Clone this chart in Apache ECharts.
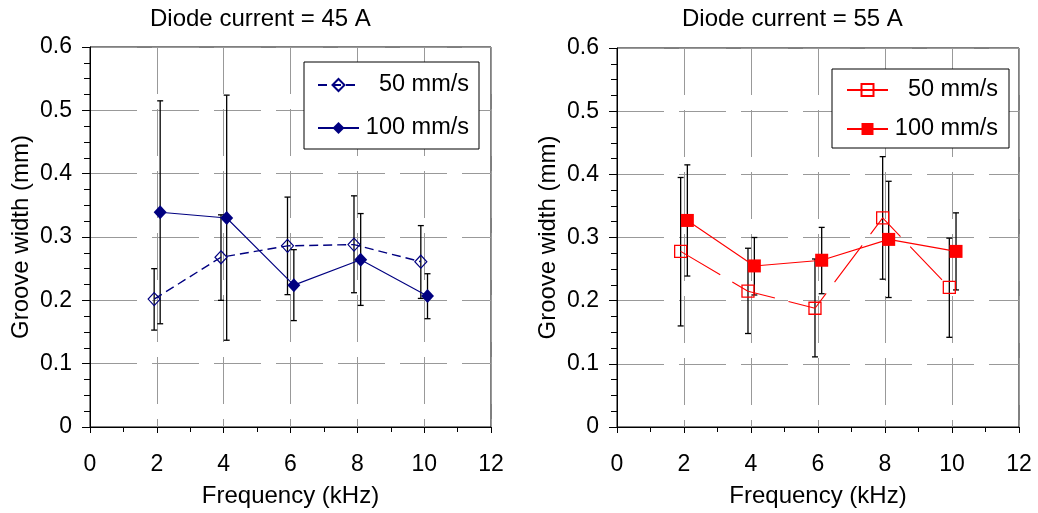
<!DOCTYPE html>
<html>
<head>
<meta charset="utf-8">
<script src="https://cdn.jsdelivr.net/npm/echarts@6/dist/echarts.min.js"></script>
<style>
html,body{margin:0;padding:0;background:#fff;}
#chart{width:1038px;height:513px;}
</style>
</head>
<body>
<div id="chart"></div>
<script>
// ---- data ----
const titles = ['Diode current = 45 A', 'Diode current = 55 A'];
const speedLabels = ['50 mm/s', '100 mm/s'];
const xTickMax = 12;
const yTickMax = 0.6;

// 45 A
const freq50L  = [1.92, 3.92, 5.91, 7.90, 9.90];
const width50L = [0.202, 0.268, 0.286, 0.288, 0.261];
const lo50L    = [0.153, 0.200, 0.209, 0.212, 0.203];
const hi50L    = [0.250, 0.335, 0.363, 0.365, 0.318];

const freq100L  = [2.10, 4.09, 6.10, 8.10, 10.10];
const width100L = [0.339, 0.330, 0.224, 0.264, 0.207];
const lo100L    = [0.163, 0.137, 0.168, 0.192, 0.171];
const hi100L    = [0.515, 0.524, 0.280, 0.337, 0.242];

// 55 A
const freq50R  = [1.90, 3.91, 5.91, 7.93, 9.92];
const width50R = [0.278, 0.215, 0.188, 0.331, 0.221];
const lo50R    = [0.160, 0.148, 0.111, 0.234, 0.142];
const hi50R    = [0.395, 0.283, 0.266, 0.428, 0.299];

const freq100R  = [2.10, 4.10, 6.11, 8.11, 10.12];
const width100R = [0.327, 0.255, 0.264, 0.297, 0.278];
const lo100R    = [0.239, 0.209, 0.211, 0.205, 0.217];
const hi100R    = [0.415, 0.300, 0.316, 0.389, 0.339];

// ---- helpers ----
const FONT = '"Liberation Sans", Arial, sans-serif';
const zip2 = (a, b) => a.map((v, i) => [v, b[i]]);
const zip3 = (a, b, c) => a.map((v, i) => [v, b[i], c[i]]);

const nameMap = {
  'L50': speedLabels[0], 'L100': speedLabels[1],
  'R50': speedLabels[0], 'R100': speedLabels[1]
};

function errRender(params, api) {
  const x = api.value(0), lo = api.value(1), hi = api.value(2);
  const pTop = api.coord([x, hi]);
  const pBot = api.coord([x, lo]);
  const cap = 3;
  const st = { stroke: '#000', lineWidth: 1.3 };
  return {
    type: 'group',
    children: [
      { type: 'line', shape: { x1: pTop[0], y1: pTop[1], x2: pBot[0], y2: pBot[1] }, style: st },
      { type: 'line', shape: { x1: pTop[0] - cap, y1: pTop[1], x2: pTop[0] + cap, y2: pTop[1] }, style: st },
      { type: 'line', shape: { x1: pBot[0] - cap, y1: pBot[1], x2: pBot[0] + cap, y2: pBot[1] }, style: st }
    ]
  };
}

function xAxisDef(gi) {
  return {
    type: 'value', gridIndex: gi, min: 0, max: xTickMax, interval: 2,
    name: 'Frequency (kHz)', nameLocation: 'middle', nameGap: 57,
    nameTextStyle: { fontFamily: FONT, fontSize: 24, color: '#000' },
    axisLine: { show: true, onZero: false, lineStyle: { color: '#000', width: 1 } },
    axisTick: { show: true, inside: false, length: 6, lineStyle: { color: '#000' } },
    minorTick: { show: true, splitNumber: 2, length: 5, lineStyle: { color: '#000' } },
    axisLabel: { fontFamily: FONT, fontSize: 23, color: '#000', margin: 26 },
    splitLine: { show: true, lineStyle: { color: '#999', width: 1, type: [47, 15] } }
  };
}
function yAxisDef(gi) {
  return {
    type: 'value', gridIndex: gi, min: 0, max: yTickMax, interval: 0.1,
    name: 'Groove width (mm)', nameLocation: 'middle', nameGap: 57,
    nameTextStyle: { fontFamily: FONT, fontSize: 24, color: '#000' },
    axisLine: { show: true, onZero: false, lineStyle: { color: '#000', width: 1 } },
    axisTick: { show: true, inside: false, length: 8, lineStyle: { color: '#000' } },
    minorTick: { show: true, splitNumber: 4, length: 6, lineStyle: { color: '#000' } },
    axisLabel: { fontFamily: FONT, fontSize: 23, color: '#000', margin: 18 },
    splitLine: { show: true, lineStyle: { color: '#999', width: 1, type: [47, 15] } }
  };
}

function legendDef(names, left, top, padding, gap) {
  return {
    data: names, orient: 'vertical', left: left, top: top,
    padding: padding, itemGap: gap, itemWidth: 41, itemHeight: 15,
    backgroundColor: '#fff', borderColor: '#000', borderWidth: 1,
    selectedMode: false,
    formatter: n => '{t|' + nameMap[n] + '}',
    textStyle: {
      rich: { t: { width: 105, align: 'right', fontFamily: FONT, fontSize: 23.5, lineHeight: 23, color: '#000' } }
    }
  };
}

const navy = '#000080';
const red = '#ff0000';

const option = {
  animation: false,
  backgroundColor: '#fff',
  title: [
    { text: titles[0], left: 150, top: 7, padding: 0,
      textStyle: { fontFamily: FONT, fontSize: 24, fontWeight: 'normal', color: '#000' } },
    { text: titles[1], left: 682, top: 7, padding: 0,
      textStyle: { fontFamily: FONT, fontSize: 24, fontWeight: 'normal', color: '#000' } }
  ],
  grid: [
    { left: 90, top: 47, width: 401, height: 383, show: true, borderColor: '#000', borderWidth: 1 },
    { left: 617, top: 48, width: 402, height: 384, show: true, borderColor: '#000', borderWidth: 1 }
  ],
  xAxis: [xAxisDef(0), xAxisDef(1)],
  yAxis: [yAxisDef(0), yAxisDef(1)],
  legend: [
    legendDef(['L50', 'L100'], 304, 62, [11, 10, 9, 13], 19),
    legendDef(['R50', 'R100'], 832, 69, [9, 11, 7, 14], 15)
  ],
  series: [
    // error bars
    { type: 'custom', xAxisIndex: 0, yAxisIndex: 0, z: 1, renderItem: errRender,
      encode: { x: 0, y: [1, 2] }, data: zip3(freq50L, lo50L, hi50L), silent: true },
    { type: 'custom', xAxisIndex: 0, yAxisIndex: 0, z: 1, renderItem: errRender,
      encode: { x: 0, y: [1, 2] }, data: zip3(freq100L, lo100L, hi100L), silent: true },
    { type: 'custom', xAxisIndex: 1, yAxisIndex: 1, z: 1, renderItem: errRender,
      encode: { x: 0, y: [1, 2] }, data: zip3(freq50R, lo50R, hi50R), silent: true },
    { type: 'custom', xAxisIndex: 1, yAxisIndex: 1, z: 1, renderItem: errRender,
      encode: { x: 0, y: [1, 2] }, data: zip3(freq100R, lo100R, hi100R), silent: true },
    // lines
    { name: 'L50', type: 'line', xAxisIndex: 0, yAxisIndex: 0, z: 3,
      data: zip2(freq50L, width50L), symbol: 'diamond', symbolSize: [12, 13],
      itemStyle: { color: 'rgba(255,255,255,0)', borderColor: navy, borderWidth: 1.2 },
      lineStyle: { color: navy, width: 1.4, type: [9, 5] }, emphasis: { disabled: true } },
    { name: 'L100', type: 'line', xAxisIndex: 0, yAxisIndex: 0, z: 3,
      data: zip2(freq100L, width100L), symbol: 'diamond', symbolSize: [13, 14],
      itemStyle: { color: navy },
      lineStyle: { color: navy, width: 1.1, type: 'solid' }, emphasis: { disabled: true } },
    { name: 'R50', type: 'line', xAxisIndex: 1, yAxisIndex: 1, z: 3,
      data: zip2(freq50R, width50R), symbol: 'rect', symbolSize: 12,
      itemStyle: { color: 'rgba(255,255,255,0)', borderColor: red, borderWidth: 1.3 },
      lineStyle: { color: red, width: 1.1, type: [46, 14] }, emphasis: { disabled: true } },
    { name: 'R100', type: 'line', xAxisIndex: 1, yAxisIndex: 1, z: 3,
      data: zip2(freq100R, width100R), symbol: 'rect', symbolSize: 13,
      itemStyle: { color: red },
      lineStyle: { color: red, width: 1.1, type: 'solid' }, emphasis: { disabled: true } }
  ]
};

const chart = echarts.init(document.getElementById('chart'), null, { renderer: 'canvas' });
chart.setOption(option);
</script>
</body>
</html>
